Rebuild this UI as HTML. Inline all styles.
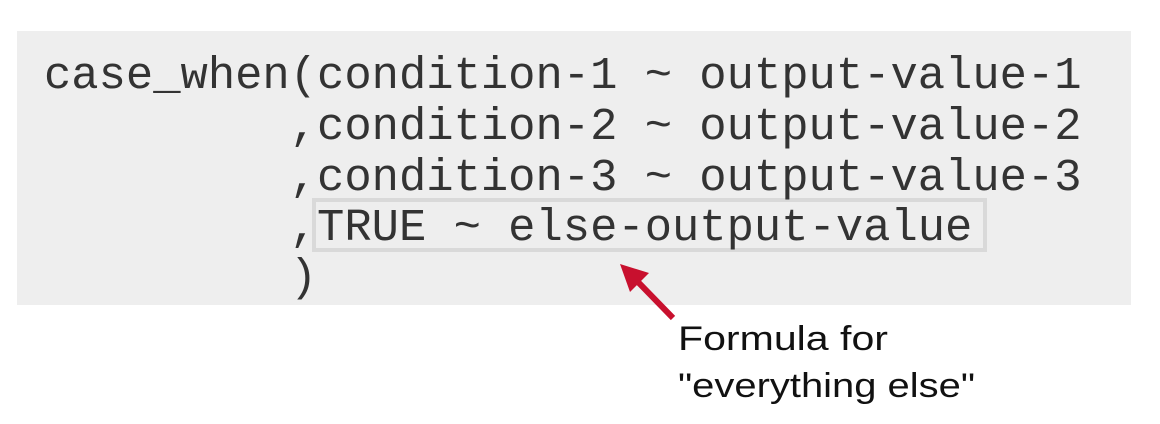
<!DOCTYPE html>
<html><head><meta charset="utf-8"><style>
html,body{margin:0;padding:0;background:#fff;width:1160px;height:424px;overflow:hidden}
</style></head><body>
<svg width="1160" height="424" xmlns="http://www.w3.org/2000/svg">
<rect x="17" y="31" width="1114" height="274" fill="#eeeeee"/>
<rect x="314" y="200" width="671" height="50" fill="#eeeeee" stroke="#d9d9d9" stroke-width="4"/>
<g font-family="Liberation Mono, monospace" font-size="45.5" fill="#333">
<text x="44" y="88" xml:space="preserve">case_when(condition-1 ~ output-value-1</text>
<text x="44" y="139" xml:space="preserve">         ,condition-2 ~ output-value-2</text>
<text x="44" y="190" xml:space="preserve">         ,condition-3 ~ output-value-3</text>
<text x="44" y="240" xml:space="preserve">         ,TRUE ~ else-output-value</text>
<text x="44" y="290" xml:space="preserve">         )</text>
</g>
<line x1="673" y1="318" x2="638" y2="282" stroke="#c8102e" stroke-width="6"/>
<polygon points="620,264 649,273 630,292" fill="#c8102e"/>
<g font-family="Liberation Sans, sans-serif" font-size="34" fill="#111">
<text x="678" y="350" textLength="210" lengthAdjust="spacingAndGlyphs">Formula for</text>
<text x="678" y="397" textLength="297" lengthAdjust="spacingAndGlyphs">"everything else"</text>
</g>
</svg>
</body></html>
